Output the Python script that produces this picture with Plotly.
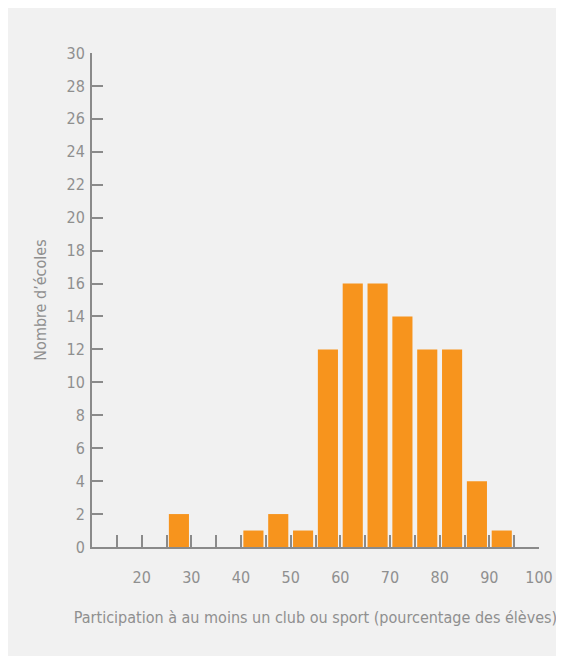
import plotly.graph_objects as go

# Data
bin_starts = [25, 40, 45, 50, 55, 60, 65, 70, 75, 80, 85, 90]
counts = [2, 1, 2, 1, 12, 16, 16, 14, 12, 12, 4, 1]
bin_width = 5
x_tick_vals = [15, 20, 25, 30, 35, 40, 45, 50, 55, 60, 65, 70, 75, 80, 85, 90, 95, 100]
x_tick_text = ["", "20", "", "30", "", "40", "", "50", "", "60", "", "70", "", "80", "", "90", "", "100"]
y_tick_vals = list(range(0, 31, 2))

x_title = "Participation à au moins un club ou sport (pourcentage des élèves)"
y_title = "Nombre d’écoles"

centers = [s + bin_width / 2 for s in bin_starts]

W, H = 564, 648
ml, mr, mt, mb = 84, 33, 45, 109

FONT = "DejaVu Sans Condensed, sans-serif"
TXT = "#8f8f8f"
AX = "#8a8a8a"
BG = "#f1f1f1"
FS = 16

fig = go.Figure()
fig.add_trace(go.Bar(
    x=centers, y=counts, width=[4.05] * len(centers),
    marker=dict(color="#F7941D", line=dict(width=0)),
    hoverinfo="x+y",
))

fig.update_layout(
    width=W, height=H,
    margin=dict(l=ml, r=mr, t=mt, b=mb, pad=0),
    paper_bgcolor=BG,
    plot_bgcolor=BG,
    showlegend=False,
    font=dict(family=FONT, color=TXT, size=FS),
    xaxis=dict(
        range=[10, 100], showgrid=False, zeroline=False,
        showline=True, linecolor=AX, linewidth=2,
        ticks="inside", ticklen=12, tickwidth=2, tickcolor=AX,
        tickmode="array", tickvals=x_tick_vals, ticktext=x_tick_text,
        tickfont=dict(size=FS, color=TXT, family=FONT),
        ticklabelstandoff=15,
        title=dict(text=x_title, font=dict(size=FS, color=TXT, family=FONT), standoff=26),
    ),
    yaxis=dict(
        range=[0, 30], showgrid=False, zeroline=False,
        showline=True, linecolor=AX, linewidth=2,
        ticks="inside", ticklen=11, tickwidth=2, tickcolor=AX,
        tickmode="array", tickvals=y_tick_vals,
        tickfont=dict(size=FS, color=TXT, family=FONT),
        ticklabelstandoff=2,
        title=dict(text=y_title, font=dict(size=FS, color=TXT, family=FONT), standoff=16),
    ),
)

fig.write_html("out.html")
